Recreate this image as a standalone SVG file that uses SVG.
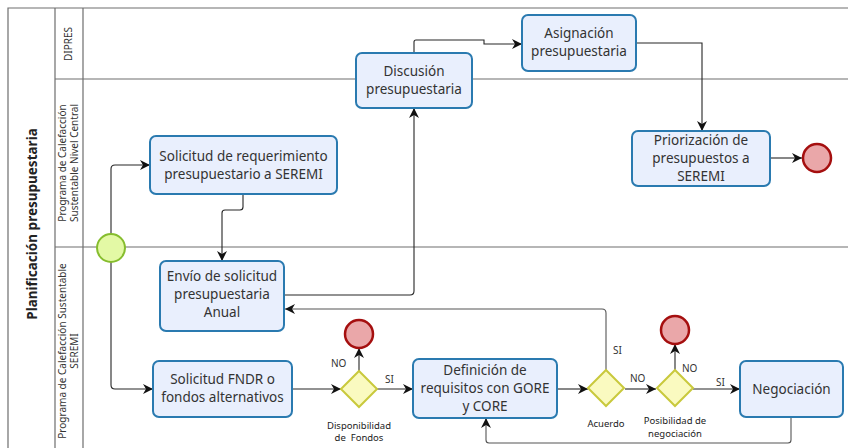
<svg xmlns="http://www.w3.org/2000/svg" width="848" height="448" viewBox="0 0 848 448">
<style>
.lane{fill:none;stroke:#6e6e6e;stroke-width:1.2}
.task rect{fill:#e9effd;stroke:#2a7ab0;stroke-width:2}
.task text,.tt{font-family:"Noto Sans","Open Sans",sans-serif;font-size:13.5px;fill:#333;text-anchor:middle}
.lbl{font-family:"Noto Sans","Open Sans",sans-serif;font-size:10px;fill:#333}
.glbl{font-family:"Noto Sans","Open Sans",sans-serif;font-size:9.5px;fill:#222;text-anchor:middle}
.gw polygon{fill:#fafac0;stroke:#c9c93c;stroke-width:2}
.end circle{fill:#eaa7a9;stroke:#a50f0f;stroke-width:2.5}
.start circle{fill:#e3f9a5;stroke:#86bd2e;stroke-width:2}
.conn path{fill:none;stroke:#262626;stroke-width:1.1}
.conn path.g{stroke:#555}
</style>
<defs>
<marker id="arr" viewBox="0 0 10 10" refX="10" refY="5" markerWidth="10" markerHeight="10" markerUnits="userSpaceOnUse" orient="auto">
<path d="M0,0 L10,5 L0,10 L3,5 z" fill="#111"/>
</marker>
</defs>
<rect width="848" height="448" fill="#fff"/>
<g id="pool">
<path class="lane" d="M848,8 H8 V448 M55,8 V448 M83,8 V448 M55,79 H848 M55,247 H848"/>
<text transform="translate(37,224) rotate(-90)" font-family="Noto Sans,Open Sans,sans-serif" font-size="13.5" font-weight="bold" fill="#222" text-anchor="middle">Planificación presupuestaria</text>
<text class="lbl" transform="translate(72,44) rotate(-90)" text-anchor="middle">DIPRES</text>
<text class="lbl" transform="translate(66,163) rotate(-90)" text-anchor="middle">Programa de Calefacción</text>
<text class="lbl" transform="translate(78,163) rotate(-90)" text-anchor="middle">Sustentable Nivel Central</text>
<text class="lbl" transform="translate(66,351) rotate(-90)" text-anchor="middle">Programa de Calefacción Sustentable</text>
<text class="lbl" transform="translate(78,351) rotate(-90)" text-anchor="middle">SEREMI</text>
</g>
<g class="conn" id="connectors">
<path d="M111,234 V169 Q111,165 115,165 H150" marker-end="url(#arr)"/>
<path d="M111,262 V385 Q111,389 115,389 H153" marker-end="url(#arr)"/>
<path d="M243,194 V207 Q243,210 240,210 H225 Q222,210 222,213 V261" marker-end="url(#arr)"/>
<path d="M284,295 H410 Q414,295 414,291 V108" marker-end="url(#arr)"/>
<path d="M414,53 V42 Q414,40 416,40 H484 V44 H522" marker-end="url(#arr)"/>
<path d="M636,43 H702 V131" marker-end="url(#arr)"/>
<path d="M770,158 H802" marker-end="url(#arr)"/>
<path d="M292,389 H341" marker-end="url(#arr)"/>
<path d="M359,371 V348" marker-end="url(#arr)"/>
<path d="M377,389 H413" marker-end="url(#arr)"/>
<path d="M557,389 H588" marker-end="url(#arr)"/>
<path class="g" d="M606,370 V313 Q606,309 602,309 H285" marker-end="url(#arr)"/>
<path d="M625,389 H656" marker-end="url(#arr)"/>
<path d="M675,370 V344" marker-end="url(#arr)"/>
<path d="M693,389 H740" marker-end="url(#arr)"/>
<path class="g" d="M791,417 V440 Q791,443 788,443 H489 Q486,443 486,440 V418" marker-end="url(#arr)"/>
</g>
<g id="start" class="start"><circle cx="111" cy="248" r="14"/></g>
<g id="t1" class="task"><rect x="150" y="136" width="187" height="58" rx="6"/><text x="243.5" y="161">Solicitud de requerimiento</text><text x="243.5" y="179">presupuestario a SEREMI</text></g>
<g id="t2" class="task"><rect x="160" y="261" width="124" height="70" rx="6"/><text x="222" y="281">Envío de solicitud</text><text x="222" y="299">presupuestaria</text><text x="222" y="317">Anual</text></g>
<g id="t3" class="task"><rect x="356" y="53" width="116" height="55" rx="6"/><text x="414" y="76">Discusión</text><text x="414" y="94">presupuestaria</text></g>
<g id="t4" class="task"><rect x="522" y="15" width="114" height="56" rx="6"/><text x="579" y="38">Asignación</text><text x="579" y="56">presupuestaria</text></g>
<g id="t5" class="task"><rect x="632" y="131" width="138" height="55" rx="6"/><text x="701" y="145">Priorización de</text><text x="701" y="163">presupuestos a</text><text x="701" y="181">SEREMI</text></g>
<g id="end1" class="end"><circle cx="817" cy="158" r="14"/></g>
<g id="t6" class="task"><rect x="153" y="361" width="139" height="56" rx="6"/><text x="222.5" y="384">Solicitud FNDR o</text><text x="222.5" y="402">fondos alternativos</text></g>
<g id="gw1" class="gw"><polygon points="359,371 377,389 359,407 341,389"/><text class="glbl" x="359" y="429">Disponibilidad</text><text class="glbl" x="359" y="441" xml:space="preserve">de  Fondos</text></g>
<g id="end2" class="end"><circle cx="359" cy="334" r="14"/></g>
<text class="lbl" x="331" y="367">NO</text>
<text class="lbl" x="385" y="383">SI</text>
<g id="t7" class="task"><rect x="413" y="359" width="144" height="59" rx="6"/><text x="485" y="375">Definición de</text><text x="485" y="393">requisitos con GORE</text><text x="485" y="411">y CORE</text></g>
<g id="gw2" class="gw"><polygon points="606,370 624,388 606,406 588,388"/><text class="glbl" x="606" y="427">Acuerdo</text></g>
<text class="lbl" x="613" y="354">SI</text>
<text class="lbl" x="630" y="382">NO</text>
<g id="gw3" class="gw"><polygon points="675,370 693,388 675,406 657,388"/><text class="glbl" x="675" y="424">Posibilidad de</text><text class="glbl" x="675" y="437">negociación</text></g>
<g id="end3" class="end"><circle cx="675" cy="330" r="14"/></g>
<text class="lbl" x="682" y="372">NO</text>
<text class="lbl" x="716" y="386">SI</text>
<g id="t8" class="task"><rect x="740" y="361" width="103" height="56" rx="6"/><text x="791.5" y="394">Negociación</text></g>
</svg>
